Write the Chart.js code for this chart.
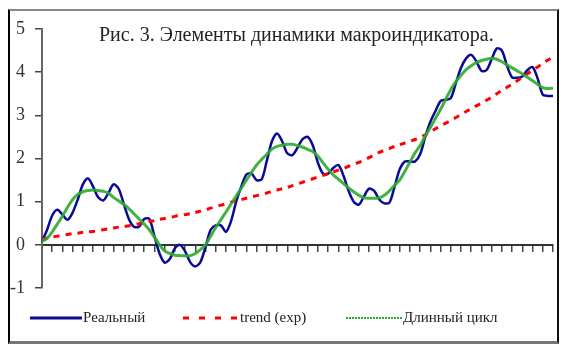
<!DOCTYPE html>
<html>
<head>
<meta charset="utf-8">
<script src="https://cdn.jsdelivr.net/npm/chart.js@4.4.1/dist/chart.umd.min.js"></script>
<style>
  html, body { margin: 0; padding: 0; background: #fff; }
  #wrap { position: relative; width: 566px; height: 353px; overflow: hidden; }
  #frame { position: absolute; left: 8px; top: 9px; width: 547px; height: 330px;
           border-left: 2px solid #000; border-right: 2px solid #111;
           border-top: 2px solid #888; border-bottom: 3px solid #777; }
  #cv { position: absolute; left: 0; top: 0; }
  .txt { position: absolute; font-family: "Liberation Serif", "Times New Roman", serif; color: #222; white-space: nowrap; }
  #title { left: 99px; top: 23px; font-size: 20px; }
  .leg { top: 309px; font-size: 15px; }
  .sw { position: absolute; top: 312px; }
</style>
</head>
<body>
<div id="wrap">
  <div id="frame"></div>
  <canvas id="cv" width="566" height="353"></canvas>
  <div id="title" class="txt">Рис. 3. Элементы динамики макроиндикатора.</div>

  <svg class="sw" style="left:30px" width="52" height="12"><line x1="0" y1="6" x2="52" y2="6" stroke="#0a0a96" stroke-width="3"/></svg>
  <div class="txt leg" style="left:83px">Реальный</div>
  <svg class="sw" style="left:183px" width="56" height="12"><line x1="0" y1="6" x2="56" y2="6" stroke="#ff0000" stroke-width="3" stroke-dasharray="6,10"/></svg>
  <div class="txt leg" style="left:240px">trend (exp)</div>
  <svg class="sw" style="left:346px" width="56" height="12"><line x1="0" y1="6" x2="56" y2="6" stroke="#2eaa2e" stroke-width="2" stroke-dasharray="2,1"/></svg>
  <div class="txt leg" style="left:403px">Длинный цикл</div>
</div>

<script>
// Рис. 3 — элементы динамики макроиндикатора (101 наблюдение)

const realnyi = [
  0.08, 0.35, 0.68, 0.81, 0.70, 0.58, 0.75, 1.05, 1.40, 1.54,
  1.35, 1.10, 1.03, 1.20, 1.40, 1.30, 0.95, 0.60, 0.42, 0.42,
  0.60, 0.60, 0.20, -0.20, -0.41, -0.33, -0.08, 0.00, -0.15, -0.40,
  -0.50, -0.40, -0.05, 0.35, 0.45, 0.45, 0.30, 0.55, 1.00, 1.35,
  1.63, 1.65, 1.50, 1.52, 1.95, 2.40, 2.58, 2.40, 2.12, 2.08,
  2.25, 2.45, 2.50, 2.30, 1.90, 1.65, 1.65, 1.78, 1.85, 1.60,
  1.25, 1.00, 0.93, 1.12, 1.30, 1.25, 1.05, 0.96, 0.98, 1.35,
  1.75, 1.93, 1.93, 1.93, 2.10, 2.50, 2.85, 3.10, 3.33, 3.36,
  3.40, 3.75, 4.10, 4.32, 4.40, 4.25, 4.03, 4.05, 4.30, 4.55,
  4.50, 4.15, 3.88, 3.87, 3.90, 4.05, 4.12, 3.85, 3.48, 3.45,
  3.45
];

const trendExp = [
  0.12, 0.16, 0.18, 0.20, 0.22, 0.24, 0.26, 0.27, 0.29, 0.30,
  0.31, 0.33, 0.35, 0.37, 0.39, 0.41, 0.42, 0.44, 0.46, 0.49,
  0.51, 0.54, 0.56, 0.59, 0.61, 0.63, 0.66, 0.68, 0.70, 0.72,
  0.75, 0.78, 0.81, 0.85, 0.88, 0.92, 0.95, 0.99, 1.02, 1.05,
  1.08, 1.11, 1.14, 1.17, 1.20, 1.24, 1.27, 1.30, 1.33, 1.37,
  1.41, 1.45, 1.49, 1.53, 1.57, 1.61, 1.65, 1.69, 1.73, 1.77,
  1.82, 1.86, 1.91, 1.96, 2.02, 2.08, 2.14, 2.19, 2.23, 2.28,
  2.32, 2.36, 2.40, 2.44, 2.49, 2.55, 2.62, 2.69, 2.76, 2.82,
  2.88, 2.95, 3.02, 3.09, 3.15, 3.22, 3.28, 3.35, 3.42, 3.50,
  3.58, 3.65, 3.72, 3.80, 3.88, 3.96, 4.05, 4.12, 4.20, 4.28,
  4.35
];

const dlinnyiCikl = [
  0.08, 0.15, 0.30, 0.48, 0.67, 0.87, 1.05, 1.17, 1.23, 1.26,
  1.27, 1.26, 1.24, 1.20, 1.10, 1.02, 0.94, 0.84, 0.72, 0.60,
  0.48, 0.35, 0.18, 0.00, -0.14, -0.20, -0.24, -0.25, -0.25, -0.25,
  -0.20, -0.11, 0.00, 0.20, 0.40, 0.58, 0.76, 0.95, 1.13, 1.31,
  1.50, 1.68, 1.85, 1.98, 2.10, 2.22, 2.28, 2.31, 2.33, 2.33,
  2.30, 2.26, 2.21, 2.16, 2.05, 1.90, 1.75, 1.62, 1.52, 1.42,
  1.32, 1.23, 1.15, 1.09, 1.08, 1.08, 1.09, 1.15, 1.25, 1.38,
  1.50, 1.70, 1.92, 2.13, 2.30, 2.52, 2.72, 2.93, 3.14, 3.37,
  3.60, 3.78, 3.93, 4.06, 4.15, 4.22, 4.27, 4.30, 4.32, 4.30,
  4.24, 4.17, 4.10, 4.03, 3.96, 3.88, 3.80, 3.72, 3.64, 3.62,
  3.63
];

const periody = realnyi.map(() => "");
const yMin = -1, yMax = 5, yStep = 1;

new Chart(document.getElementById("cv").getContext("2d"), {
  type: "line",
  data: {
    labels: periody,
    datasets: [
      { label: "Реальный", data: realnyi, borderColor: "#0a0a96", borderWidth: 2.5, tension: 0.3, pointRadius: 0, fill: false, order: 2 },
      { label: "trend (exp)", data: trendExp, borderColor: "#ff0000", borderWidth: 3, borderDash: [6, 6], tension: 0.2, pointRadius: 0, fill: false, order: 1 },
      { label: "Длинный цикл", data: dlinnyiCikl, borderColor: "rgba(46,170,46,0.9)", borderWidth: 3, tension: 0.3, pointRadius: 0, fill: false, order: 0 },
    ],
  },
  options: {
    responsive: false, animation: false,
    layout: { padding: { left: 0, right: 13, top: 29, bottom: 65 } },
    plugins: { legend: { display: false }, tooltip: { enabled: false } },
    scales: {
      x: {
        position: { y: 0 },
        offset: false,
        grid: { drawOnChartArea: false, tickLength: 6, lineWidth: 1.5,
                color: (c) => (c.index % 2 === 0 ? "#444" : "rgba(0,0,0,0)") },
        border: { color: "#333", width: 2 },
        ticks: { display: false, autoSkip: false },
      },
      y: {
        min: yMin, max: yMax,
        afterFit: (s) => { s.width = 42; },
        grid: { drawOnChartArea: false, tickLength: 7, color: "#444", lineWidth: 1.5 },
        border: { color: "#666", width: 2 },
        ticks: { stepSize: yStep, padding: 10, color: "#333",
                 font: { family: "'Liberation Serif', serif", size: 18 } },
      },
    },
  },
});
</script>
</body>
</html>
